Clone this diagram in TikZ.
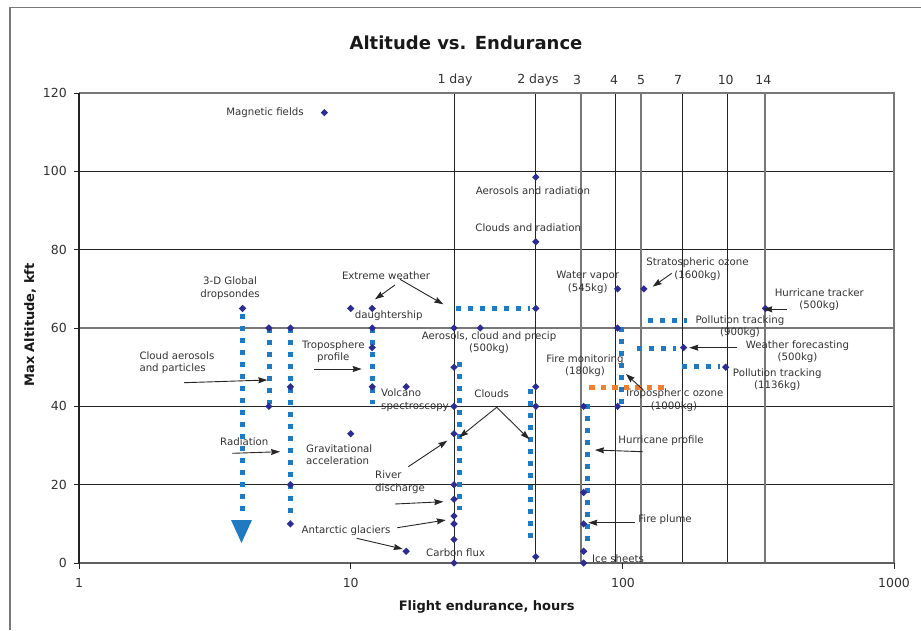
\documentclass[tikz,border=0pt]{standalone}
\usepackage{fontspec}
\setmainfont{DejaVu Sans}
\usetikzlibrary{shapes.geometric,arrows.meta}
\definecolor{mkc}{RGB}{45,45,145}
\definecolor{bl}{RGB}{31,122,193}
\definecolor{org}{RGB}{240,128,48}
\definecolor{txt}{RGB}{50,50,50}
\definecolor{gridc}{RGB}{35,35,35}
\definecolor{framec}{RGB}{120,120,120}
\begin{document}
\begin{tikzpicture}[x=1pt,y=-1pt,
  declare function={hx(\h)=79+271.7*log10(\h); ay(\a)=563-3.9167*\a;},
  dmark/.style={diamond, fill=mkc, inner sep=0pt, minimum size=7.5pt},
  lbl/.style={font=\fontsize{10.2}{12.3}\selectfont, text=txt, inner sep=0pt, align=center},
  lbll/.style={lbl, align=left, anchor=west},
  ticklbl/.style={font=\fontsize{12.5}{14}\selectfont, text=txt, inner sep=0pt},
  bdash/.style={draw=bl, line width=5pt, dash pattern=on 5pt off 7pt},
  odash/.style={draw=org, line width=5pt, dash pattern=on 5.5pt off 6pt},
  arr/.style={draw=black!85, line width=0.9pt, -{Stealth[length=9pt,width=6pt,inset=1pt]}},
  gridl/.style={draw=gridc, line width=1pt},
  gridg/.style={draw=framec, line width=1.6pt},
  framel/.style={draw=framec, line width=1.6pt},
]
\useasboundingbox (0,0) rectangle (921,630);
% outer chart frame
\draw[framel] (10,630) -- (10,7.5) -- (921,7.5);

% title and axis titles
\node[font=\fontsize{18}{20}\selectfont\bfseries, text=black!90, inner sep=0pt] (title) at (466,43) {Altitude vs. Endurance};
\node[font=\fontsize{13}{15}\selectfont\bfseries, text=black!90, inner sep=0pt] (xtitle) at (486.7,606.5) {Flight endurance, hours};
\node[font=\fontsize{13}{15}\selectfont\bfseries, text=black!90, inner sep=0pt, rotate=90] (ytitle) at (30,325) {Max Altitude, kft};

% horizontal grid
\foreach \v in {20,40,80,100} {\draw[gridl] (79,{ay(\v)}) -- (894,{ay(\v)});}
\draw[gridg] (79,{ay(60)}) -- (894,{ay(60)});
% day lines
\foreach \xx in {454,535.7,615.7,682.3,727.7} {\draw[gridl] (\xx,93) -- (\xx,563);}
\foreach \xx in {580.7,641,765} {\draw[gridg] (\xx,93) -- (\xx,563);}
% plot frame
\draw[draw=framec, line width=1.5pt] (79,93) -- (894,93) -- (894,563);
\draw[draw=framec!80!black, line width=2pt] (79,563) -- (894,563);
\draw[draw=gridc, line width=1.1pt] (79,93) -- (79,563);
% ticks
\foreach \v in {0,20,40,60,80,100,120} {\draw[gridl] (74,{ay(\v)}) -- (79,{ay(\v)});}
\foreach \xx in {79,350.7,622.4,894} {\draw[gridl] (\xx,563) -- (\xx,568.5);}
% tick labels
\foreach \v in {0,20,40,60,80,100,120} {\node[ticklbl, anchor=east] (yl\v) at (67,{ay(\v)}) {\v};}
\node[ticklbl] (xl1) at (79,583.3) {1};
\node[ticklbl] (xl10) at (350.7,583.3) {10};
\node[ticklbl] (xl100) at (623,583.3) {100};
\node[ticklbl] (xl1000) at (894,583.3) {1000};
% day labels
\node[ticklbl] (d1) at (455,80) {1 day};
\node[ticklbl] (d2) at (538,80) {2 days};
\node[ticklbl] (d3) at (577,80) {3};
\node[ticklbl] (d4) at (614,80) {4};
\node[ticklbl] (d5) at (641,80) {5};
\node[ticklbl] (d7) at (678,80) {7};
\node[ticklbl] (d10) at (725.7,80) {10};
\node[ticklbl] (d14) at (763.3,80) {14};

% labels
\node[lbl] (magf) at (265,113) {Magnetic fields};
\node[lbl] (aerrad) at (533,190.7) {Aerosols and radiation};
\node[lbl] (cldrad) at (528.3,227.7) {Clouds and radiation};
\node[lbl] (drops) at (230,288.3) {3-D Global\\dropsondes};
\node[lbl] (extreme) at (386,276) {Extreme weather};
\node[lbl] (daughter) at (388.7,316) {daughtership};
\node[lbll] (cloudaer) at (139.3,362.5) {Cloud aerosols\\and particles};
\node[lbl] (tropo) at (333.3,351.7) {Troposphere\\profile};
\node[lbll] (volcano) at (381,400.3) {Volcano\\spectroscopy};
\node[lbl] (aerocp) at (489,342.8) {Aerosols, cloud and precip\\(500kg)};
\node[lbl] (clouds) at (491.7,393.3) {Clouds};
\node[lbl] (radiation) at (244.3,441.7) {Radiation};
\node[lbll] (grav) at (306,454.7) {Gravitational\\acceleration};
\node[lbll] (river) at (375,482.2) {River\\discharge};
\node[lbl] (antarc) at (346,531) {Antarctic glaciers};
\node[lbll] (carbon) at (426,552.3) {Carbon flux};
\node[lbl] (watervap) at (587.7,282.3) {Water vapor\\(545kg)};
\node[lbl] (firemon) at (585,365.8) {Fire monitoring\\(180kg)};
\node[lbl] (stratoz) at (697.5,269.2) {Stratospheric ozone\\(1600kg)};
\node[lbl] (hurrtr) at (819.3,299.5) {Hurricane tracker\\(500kg)};
\node[lbl] (poll1) at (740,327) {Pollution tracking\\(900kg)};
\node[lbl] (weather) at (797.5,351.5) {Weather forecasting\\(500kg)};
\node[lbl] (poll2) at (777.3,379.5) {Pollution tracking\\(1136kg)};
\node[lbl] (tropoz) at (674,400.3) {Tropospheric ozone\\(1000kg)};
\node[lbl] (hurrpr) at (661,441) {Hurricane profile};
\node[lbl] (fireplume) at (665,520) {Fire plume};
\node[lbll] (ice) at (592,559) {Ice sheets};

% blue dashed bars
\draw[bdash] (242.7,314) -- (242.7,514);
\fill[bl] (231,520) -- (252,520) -- (241.5,543) -- cycle;
\draw[bdash] (269,328) -- (269,404);
\draw[bdash] (290.7,328) -- (290.7,520);
\draw[bdash] (372.3,328) -- (372.3,404);
\draw[bdash] (456,308.3) -- (530,308.3);
\draw[bdash] (459,362) -- (459,510);
\draw[bdash] (530.7,389) -- (530.7,538);
\draw[bdash] (587.3,404) -- (587.3,544);
\draw[bdash] (621,327) -- (621,404);
\draw[bdash] (648,320) -- (687,320);
\draw[bdash] (636.7,348) -- (676,348);
\draw[bdash] (681.7,366) -- (720,366);
\draw[odash] (589.3,387) -- (666,387);

% markers
\foreach \h/\a [count=\i] in {8/115, 48/98.5, 48/82, 4/65, 5/60, 6/60, 10/65, 12/65, 12/60, 12/55,
   6/45, 12/45, 16/45, 5/40, 10/33, 6/20, 6/10, 16/3,
   24/60, 24/50, 24/40, 24/33, 24/20, 24/16.3, 24/12, 24/10, 24/6, 24/0,
   30/60, 48/65, 48/45, 48/40, 48/1.6,
   72/40, 72/18, 72/10, 72/3, 72/0,
   96/70, 96/60, 96/40, 120/70, 336/65, 168/55, 240/50}
  {\node[dmark] (m\i) at ({hx(\h)},{ay(\a)}) {};}

% arrow end points
\coordinate (ew1s) at (395,285);     \coordinate (ew1e) at (375,299.3);
\coordinate (ew2s) at (400,279.3);   \coordinate (ew2e) at (443.3,304.3);
\coordinate (cas) at (184,382.7);    \coordinate (cae) at (267.3,380);
\coordinate (tps) at (314,369);      \coordinate (tpe) at (361.7,369);
\coordinate (rds) at (232.3,453.3);  \coordinate (rde) at (280,451.7);
\coordinate (rv1s) at (408.3,466.7); \coordinate (rv1e) at (447.3,440.7);
\coordinate (rv2s) at (395,504);     \coordinate (rv2e) at (443.3,501.7);
\coordinate (ag1s) at (397.3,527.7); \coordinate (ag1e) at (445.7,520);
\coordinate (ag2s) at (356.7,538.3); \coordinate (ag2e) at (402.7,549);
\coordinate (cls) at (496.7,407.3);  \coordinate (cl1e) at (459.3,437.3);
\coordinate (cl2e) at (529.3,439.3);
\coordinate (tos) at (643.3,390);    \coordinate (toe) at (626,374);
\coordinate (sos) at (671.7,273.3);  \coordinate (soe) at (652.7,286.7);
\coordinate (hts) at (786.7,309.3);  \coordinate (hte) at (763.3,309.3);
\coordinate (wfs) at (737.3,347.7);  \coordinate (wfe) at (689.3,347.7);
\coordinate (hps) at (642.7,451.7);  \coordinate (hpe) at (595,450);
\coordinate (fps) at (635,522.7);    \coordinate (fpe) at (588.3,522.7);

% arrows
\draw[arr] (ew1s) -- (ew1e);
\draw[arr] (ew2s) -- (ew2e);
\draw[arr] (cas) -- (cae);
\draw[arr] (tps) -- (tpe);
\draw[arr] (rds) -- (rde);
\draw[arr] (rv1s) -- (rv1e);
\draw[arr] (rv2s) -- (rv2e);
\draw[arr] (ag1s) -- (ag1e);
\draw[arr] (ag2s) -- (ag2e);
\draw[arr] (cls) -- (cl1e);
\draw[arr] (cls) -- (cl2e);
\draw[arr] (tos) -- (toe);
\draw[arr] (sos) -- (soe);
\draw[arr] (hts) -- (hte);
\draw[arr] (wfs) -- (wfe);
\draw[arr] (hps) -- (hpe);
\draw[arr] (fps) -- (fpe);
\end{tikzpicture}
\end{document}
